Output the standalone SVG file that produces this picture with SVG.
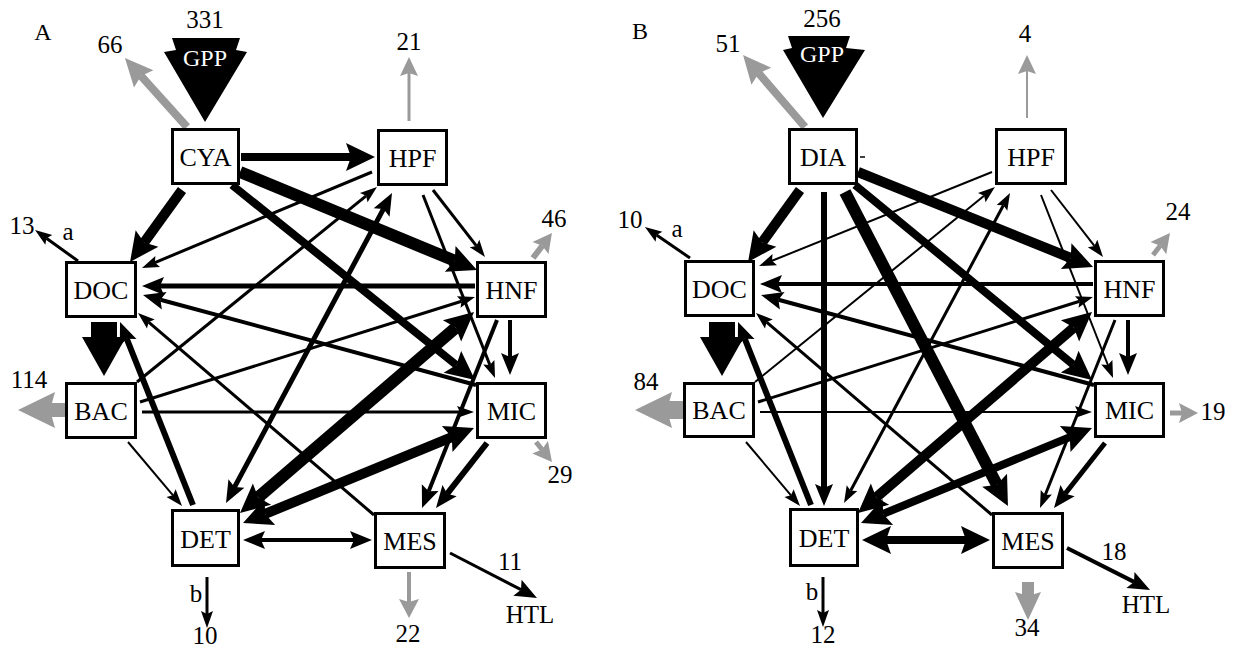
<svg xmlns="http://www.w3.org/2000/svg" width="1235" height="650" viewBox="0 0 1235 650" font-family="Liberation Serif, serif">
<style>
.box{fill:#fff;stroke:#000;stroke-width:3}
.lbl{font-family:"Liberation Serif",serif;font-size:26px;text-anchor:middle;fill:#000}
.num{font-family:"Liberation Serif",serif;font-size:25px;text-anchor:middle;fill:#000}
.e{stroke:#000;fill:none}
.g{stroke:#9a9a9a;fill:none}
</style>
<defs>
<marker id="hs" markerUnits="userSpaceOnUse" orient="auto-start-reverse" overflow="visible" markerWidth="1" markerHeight="1" refX="0" refY="0"><path d="M-3,-6L14,0L-3,6L0,0z" fill="#000"/></marker>
<marker id="hm" markerUnits="userSpaceOnUse" orient="auto-start-reverse" overflow="visible" markerWidth="1" markerHeight="1" refX="0" refY="0"><path d="M-4,-9L18,0L-4,9L0,0z" fill="#000"/></marker>
<marker id="hl" markerUnits="userSpaceOnUse" orient="auto-start-reverse" overflow="visible" markerWidth="1" markerHeight="1" refX="0" refY="0"><path d="M-5,-14L24,0L-5,14L0,0z" fill="#000"/></marker>
<marker id="gs" markerUnits="userSpaceOnUse" orient="auto" overflow="visible" markerWidth="1" markerHeight="1" refX="0" refY="0"><path d="M-3,-9L16,0L-3,9L0,0z" fill="#9a9a9a"/></marker>
<marker id="gm" markerUnits="userSpaceOnUse" orient="auto" overflow="visible" markerWidth="1" markerHeight="1" refX="0" refY="0"><path d="M-3,-10L16,0L-3,10L0,0z" fill="#9a9a9a"/></marker>
<marker id="gl" markerUnits="userSpaceOnUse" orient="auto" overflow="visible" markerWidth="1" markerHeight="1" refX="0" refY="0"><path d="M-4,-13L24,0L-4,13L0,0z" fill="#9a9a9a"/></marker>
<marker id="gx" markerUnits="userSpaceOnUse" orient="auto" overflow="visible" markerWidth="1" markerHeight="1" refX="0" refY="0"><path d="M-5,-18L32,0L-5,18L0,0z" fill="#9a9a9a"/></marker>
</defs>
<rect width="1235" height="650" fill="#fff"/>

<!-- ================= PANEL A ================= -->
<g id="panelA">
<g id="A-connectors">
<line class="e" x1="241" y1="157" x2="351" y2="157" stroke-width="8" marker-end="url(#hl)"/>
<line class="e" x1="240" y1="172" x2="454.8" y2="260.8" stroke-width="12" marker-end="url(#hl)"/>
<line class="e" x1="232" y1="185" x2="456.3" y2="365" stroke-width="8" marker-end="url(#hl)"/>
<line class="e" x1="182" y1="190" x2="144.1" y2="242.5" stroke-width="10" marker-end="url(#hl)"/>
<line class="e" x1="372" y1="172" x2="154.9" y2="262.6" stroke-width="3" marker-end="url(#hs)"/>
<line class="e" x1="475" y1="286" x2="160" y2="286" stroke-width="5" marker-end="url(#hm)"/>
<line class="e" x1="476" y1="385" x2="160.4" y2="299.7" stroke-width="4" marker-end="url(#hm)"/>
<line class="e" x1="374" y1="515" x2="148.6" y2="322.1" stroke-width="3" marker-end="url(#hs)"/>
<line class="e" x1="137" y1="382" x2="366.1" y2="195.8" stroke-width="3" marker-end="url(#hs)"/>
<line class="e" x1="234.5" y1="487.1" x2="383.5" y2="208.9" stroke-width="5" marker-start="url(#hm)" marker-end="url(#hm)"/>
<line class="e" x1="433" y1="190" x2="476.4" y2="245.9" stroke-width="3" marker-end="url(#hs)"/>
<line class="e" x1="423" y1="195" x2="489.9" y2="365" stroke-width="3" marker-end="url(#hs)"/>
<line class="e" x1="140" y1="402" x2="461.6" y2="301.2" stroke-width="3" marker-end="url(#hs)"/>
<line class="e" x1="142" y1="412" x2="460" y2="412" stroke-width="3" marker-end="url(#hs)"/>
<line class="e" x1="128" y1="442" x2="173" y2="495.3" stroke-width="2" marker-end="url(#hs)"/>
<line class="e" x1="455.8" y1="327.6" x2="258.2" y2="497.4" stroke-width="12" marker-start="url(#hl)" marker-end="url(#hl)"/>
<line class="e" x1="451.8" y1="437.1" x2="265.2" y2="513.9" stroke-width="10" marker-start="url(#hl)" marker-end="url(#hl)"/>
<line class="e" x1="261" y1="540" x2="354" y2="540" stroke-width="4" marker-start="url(#hm)" marker-end="url(#hm)"/>
<line class="e" x1="487" y1="443" x2="447.1" y2="493.8" stroke-width="6" marker-end="url(#hm)"/>
<line class="e" x1="497" y1="320" x2="428.7" y2="491.3" stroke-width="4" marker-end="url(#hm)"/>
<line class="e" x1="510" y1="320" x2="510" y2="357" stroke-width="4" marker-end="url(#hm)"/>
<line class="e" x1="193" y1="505" x2="126.7" y2="338.7" stroke-width="6" marker-end="url(#hm)"/>
<polygon points="91,322 117,322 117,337 126,337 104,376 82,337 91,337" fill="#000"/>
<line class="e" x1="78" y1="261" x2="46.4" y2="238.2" stroke-width="3" marker-end="url(#hs)"/>
<line class="e" x1="207" y1="577" x2="207" y2="614" stroke-width="3" marker-end="url(#hs)"/>
<line class="e" x1="450" y1="553" x2="521" y2="589.7" stroke-width="3" marker-end="url(#hm)"/>
<line class="g" x1="187" y1="127" x2="141" y2="75.9" stroke-width="8" marker-end="url(#gl)"/>
<line class="g" x1="409" y1="121" x2="409" y2="73" stroke-width="3" marker-end="url(#gs)"/>
<line class="g" x1="533" y1="258" x2="542.3" y2="245.7" stroke-width="6" marker-end="url(#gm)"/>
<line class="g" x1="536" y1="442" x2="542" y2="449.5" stroke-width="5" marker-end="url(#gm)"/>
<line class="g" x1="65" y1="410" x2="50" y2="410" stroke-width="14" marker-end="url(#gx)"/>
<line class="g" x1="409" y1="572" x2="409" y2="602" stroke-width="4" marker-end="url(#gm)"/>
<polygon points="172,38 240,38 236,50 247,52 205,122 164,52 176,50" fill="#000"/>
</g>
<g id="A-CYA"><rect class="box" x="172.5" y="129.5" width="66" height="54"/><text class="lbl" x="205.5" y="166">CYA</text></g>
<g id="A-HPF"><rect class="box" x="378.5" y="130.5" width="68" height="54"/><text class="lbl" x="412.5" y="166.5">HPF</text></g>
<g id="A-HNF"><rect class="box" x="477.5" y="262.5" width="68" height="54"/><text class="lbl" x="511.5" y="298.5">HNF</text></g>
<g id="A-DOC"><rect class="box" x="66.5" y="262.5" width="69" height="54"/><text class="lbl" x="101" y="298.5">DOC</text></g>
<g id="A-BAC"><rect class="box" x="66.5" y="383.5" width="69" height="54"/><text class="lbl" x="101" y="419.5">BAC</text></g>
<g id="A-MIC"><rect class="box" x="477.5" y="383.5" width="68" height="54"/><text class="lbl" x="511.5" y="419.5">MIC</text></g>
<g id="A-DET"><rect class="box" x="172.5" y="510.5" width="66" height="55"/><text class="lbl" x="205.5" y="547.5">DET</text></g>
<g id="A-MES"><rect class="box" x="375.5" y="513.5" width="69" height="54"/><text class="lbl" x="410" y="549.5">MES</text></g>
<g id="A-labels">
<text class="num" x="43" y="40" style="font-size:24px">A</text>
<text class="num" x="205" y="28">331</text>
<text class="num" x="205" y="66" style="font-size:24px;fill:#fff">GPP</text>
<text class="num" x="110" y="53">66</text>
<text class="num" x="22" y="234">13</text>
<text class="num" x="68" y="240">a</text>
<text class="num" x="409" y="50">21</text>
<text class="num" x="554" y="227">46</text>
<text class="num" x="29" y="388">114</text>
<text class="num" x="560" y="483">29</text>
<text class="num" x="196" y="602">b</text>
<text class="num" x="205" y="644">10</text>
<text class="num" x="510" y="570">11</text>
<text class="num" x="530" y="623">HTL</text>
<text class="num" x="408" y="642">22</text>
</g>
</g>

<!-- ================= PANEL B ================= -->
<g id="panelB" transform="translate(618,0)">
<g id="B-connectors">
<line class="e" x1="240" y1="172" x2="452.8" y2="258" stroke-width="10" marker-end="url(#hl)"/>
<line class="e" x1="237" y1="185" x2="455.5" y2="364.8" stroke-width="8" marker-end="url(#hl)"/>
<line class="e" x1="182" y1="190" x2="144.1" y2="242.5" stroke-width="10" marker-end="url(#hl)"/>
<line class="e" x1="206" y1="192" x2="206" y2="488" stroke-width="6" marker-end="url(#hm)"/>
<line class="e" x1="227" y1="192" x2="378.9" y2="484.7" stroke-width="12" marker-end="url(#hl)"/>
<line class="e" x1="374" y1="172" x2="154" y2="260.8" stroke-width="2" marker-end="url(#hs)"/>
<line class="e" x1="475" y1="284" x2="160" y2="284" stroke-width="4" marker-end="url(#hm)"/>
<line class="e" x1="476" y1="385" x2="160.4" y2="299.7" stroke-width="4" marker-end="url(#hm)"/>
<line class="e" x1="374" y1="515" x2="148.6" y2="322.1" stroke-width="3" marker-end="url(#hs)"/>
<line class="e" x1="137" y1="382" x2="366.1" y2="195.8" stroke-width="2" marker-end="url(#hs)"/>
<line class="e" x1="232.6" y1="490.7" x2="385.4" y2="205.3" stroke-width="3" marker-start="url(#hs)" marker-end="url(#hs)"/>
<line class="e" x1="433" y1="190" x2="476.4" y2="245.9" stroke-width="2" marker-end="url(#hs)"/>
<line class="e" x1="423" y1="195" x2="489.9" y2="365" stroke-width="2" marker-end="url(#hs)"/>
<line class="e" x1="140" y1="402" x2="461.6" y2="301.2" stroke-width="3" marker-end="url(#hs)"/>
<line class="e" x1="142" y1="412" x2="460" y2="412" stroke-width="2" marker-end="url(#hs)"/>
<line class="e" x1="128" y1="442" x2="173" y2="495.3" stroke-width="2" marker-end="url(#hs)"/>
<line class="e" x1="455.8" y1="327.6" x2="258.2" y2="497.4" stroke-width="10" marker-start="url(#hl)" marker-end="url(#hl)"/>
<line class="e" x1="451.8" y1="437.1" x2="265.2" y2="513.9" stroke-width="8" marker-start="url(#hl)" marker-end="url(#hl)"/>
<line class="e" x1="268" y1="540" x2="348" y2="540" stroke-width="8" marker-start="url(#hl)" marker-end="url(#hl)"/>
<line class="e" x1="487" y1="443" x2="447.1" y2="493.8" stroke-width="5" marker-end="url(#hm)"/>
<line class="e" x1="497" y1="320" x2="427.2" y2="495" stroke-width="3" marker-end="url(#hs)"/>
<line class="e" x1="510" y1="320" x2="510" y2="357" stroke-width="4" marker-end="url(#hm)"/>
<line class="e" x1="193" y1="505" x2="126.7" y2="338.7" stroke-width="6" marker-end="url(#hm)"/>
<polygon points="91,322 117,322 117,337 126,337 104,376 82,337 91,337" fill="#000"/>
<line class="e" x1="72" y1="258" x2="38.5" y2="235" stroke-width="3" marker-end="url(#hs)"/>
<line class="e" x1="205" y1="577" x2="205" y2="613" stroke-width="3" marker-end="url(#hs)"/>
<line class="e" x1="449" y1="548" x2="516" y2="581.9" stroke-width="4" marker-end="url(#hm)"/>
<line class="e" x1="242" y1="157" x2="247" y2="157" stroke-width="1.5"/>
<line class="g" x1="187" y1="127" x2="140.7" y2="73.2" stroke-width="8" marker-end="url(#gl)"/>
<line class="g" x1="409" y1="118" x2="409" y2="71" stroke-width="2" marker-end="url(#gs)"/>
<line class="g" x1="535" y1="255" x2="542.2" y2="245.7" stroke-width="5" marker-end="url(#gm)"/>
<line class="g" x1="552" y1="413" x2="564" y2="413" stroke-width="5" marker-end="url(#gm)"/>
<line class="g" x1="65" y1="410" x2="49" y2="410" stroke-width="18" marker-end="url(#gx)"/>
<line class="g" x1="410" y1="582" x2="410" y2="596" stroke-width="12" marker-end="url(#gl)"/>
<polygon points="170,36 232,36 228,48 247,50 205,118 165,50 174,48" fill="#000"/>
</g>
<g id="B-DIA"><rect class="box" x="171.5" y="129.5" width="67" height="54"/><text class="lbl" x="205" y="166">DIA</text></g>
<g id="B-HPF"><rect class="box" x="378.5" y="129.5" width="69" height="54"/><text class="lbl" x="413" y="166">HPF</text></g>
<g id="B-HNF"><rect class="box" x="477.5" y="261.5" width="68" height="54"/><text class="lbl" x="511.5" y="297.5">HNF</text></g>
<g id="B-DOC"><rect class="box" x="67.5" y="261.5" width="68" height="54"/><text class="lbl" x="101.5" y="297.5">DOC</text></g>
<g id="B-BAC"><rect class="box" x="66.5" y="383.5" width="69" height="53"/><text class="lbl" x="101" y="419">BAC</text></g>
<g id="B-MIC"><rect class="box" x="477.5" y="383.5" width="68" height="53"/><text class="lbl" x="511.5" y="419">MIC</text></g>
<g id="B-DET"><rect class="box" x="172.5" y="509.5" width="67" height="56"/><text class="lbl" x="206" y="546.5">DET</text></g>
<g id="B-MES"><rect class="box" x="375.5" y="513.5" width="69" height="54"/><text class="lbl" x="410" y="549.5">MES</text></g>
<g id="B-labels">
<text class="num" x="22" y="39" style="font-size:24px">B</text>
<text class="num" x="204" y="27">256</text>
<text class="num" x="204" y="62" style="font-size:24px;fill:#fff">GPP</text>
<text class="num" x="110" y="52">51</text>
<text class="num" x="12" y="228">10</text>
<text class="num" x="59" y="237">a</text>
<text class="num" x="407" y="42">4</text>
<text class="num" x="560" y="220">24</text>
<text class="num" x="28" y="390">84</text>
<text class="num" x="595" y="420">19</text>
<text class="num" x="194" y="600">b</text>
<text class="num" x="205" y="643">12</text>
<text class="num" x="496" y="560">18</text>
<text class="num" x="528" y="613">HTL</text>
<text class="num" x="409" y="636">34</text>
</g>
</g>
</svg>
